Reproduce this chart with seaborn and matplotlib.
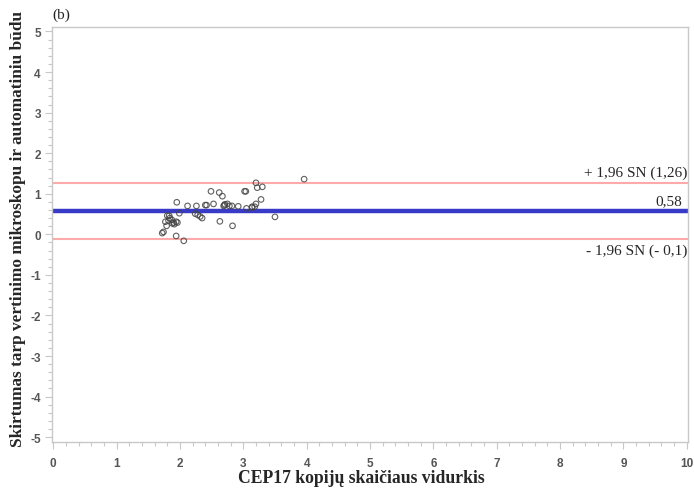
import matplotlib
matplotlib.use("Agg")
import matplotlib.pyplot as plt
from matplotlib.ticker import MultipleLocator
import seaborn as sns
import pandas as pd

# Bland-Altman data
mean_cep17 = [3.96, 3.20, 3.22, 3.30, 2.49, 2.62, 2.67, 3.02, 3.04, 1.95,
              2.12, 2.26, 2.40, 2.42, 2.53, 2.69, 2.71, 2.75, 2.78, 2.82,
              2.92, 3.05, 3.14, 3.18, 3.20, 3.28, 1.80, 1.83, 1.99, 2.24,
              2.28, 2.32, 2.35, 1.77, 1.82, 1.87, 1.90, 1.94, 1.96, 1.91,
              1.79, 2.63, 3.50, 2.83, 1.74, 1.72, 1.94, 2.06, 1.88, 1.84,
              3.14, 2.70]
difference = [1.36, 1.27, 1.15, 1.17, 1.06, 1.03, 0.94, 1.06, 1.06, 0.79,
              0.70, 0.70, 0.72, 0.72, 0.75, 0.70, 0.74, 0.75, 0.70, 0.70,
              0.69, 0.64, 0.66, 0.68, 0.75, 0.86, 0.46, 0.46, 0.52, 0.51,
              0.48, 0.44, 0.40, 0.31, 0.34, 0.36, 0.29, 0.31, 0.29, 0.25,
              0.21, 0.32, 0.43, 0.21, 0.06, 0.03, -0.04, -0.16, 0.27, 0.40,
              0.68, 0.72]
mean_diff = 0.58
upper_loa = 1.26
lower_loa = -0.11
line_labels = ["+ 1,96 SN (1,26)", "0,58", "- 1,96 SN (- 0,1)"]
x_ticks = list(range(0, 11))
y_ticks = list(range(-5, 6))

df = pd.DataFrame({"x": mean_cep17, "y": difference})

sns.set_style("white")
plt.rcParams["font.family"] = ["Liberation Serif", "DejaVu Serif"]
plt.rcParams["axes.unicode_minus"] = False

fig = plt.figure(figsize=(6.94, 4.89), dpi=100)
ax = fig.add_axes([0.0749, 0.094, 0.9165, 0.8487])

ax.axhline(upper_loa, color="#ffaaaa", lw=1.5, zorder=1)
ax.axhline(lower_loa, color="#ffaaaa", lw=1.5, zorder=1)
ax.axhline(mean_diff, color="#3a3ac8", lw=3.2, zorder=2)

sns.scatterplot(data=df, x="x", y="y", ax=ax, marker="o", s=16,
                facecolor="none", edgecolor="#444444", linewidth=0.8,
                alpha=0.85, zorder=3)

ax.set_xlim(-0.02, 10.02)
ax.set_ylim(-5.12, 5.11)
ax.set_xticks(x_ticks)
ax.set_yticks(y_ticks)
ax.xaxis.set_minor_locator(MultipleLocator(0.2))
ax.yaxis.set_minor_locator(MultipleLocator(0.2))
ax.tick_params(which="both", bottom=True, left=True, top=False, right=False)
ax.tick_params(which="major", direction="out", length=5, width=0.8,
               color="#c8c8c8", labelsize=8.5, labelcolor="#555555", pad=3)
ax.tick_params(which="minor", direction="out", length=3, width=0.8,
               color="#c8c8c8")
ax.tick_params(axis="x", which="major", pad=6)
for lab in ax.get_xticklabels() + ax.get_yticklabels():
    lab.set_fontfamily("Liberation Sans")
    lab.set_fontweight("bold")
for s in ax.spines.values():
    s.set_color("#c8c8c8")
    s.set_linewidth(1.0)

ax.set_xlabel("CEP17 kopijų skaičiaus vidurkis", fontsize=12.7,
              fontweight="bold")
ax.xaxis.set_label_coords(0.487, -0.065)
ax.set_ylabel("Skirtumas tarp vertinimo mikroskopu ir automatiniu būdu",
              fontsize=12.4, fontweight="bold")
ax.yaxis.set_label_coords(-0.041, 0.516)

trans = ax.get_yaxis_transform()
ax.text(0.999, upper_loa + 0.1, line_labels[0], transform=trans,
        ha="right", va="bottom", fontsize=11)
ax.text(0.99, mean_diff + 0.1, line_labels[1], transform=trans,
        ha="right", va="bottom", fontsize=11)
ax.text(0.999, lower_loa - 0.12, line_labels[2], transform=trans,
        ha="right", va="top", fontsize=11)

fig.text(52 / 694, 1 - 19 / 489, "(b)", fontsize=11, ha="left",
         va="baseline")

fig.savefig("out.png", dpi=100)
